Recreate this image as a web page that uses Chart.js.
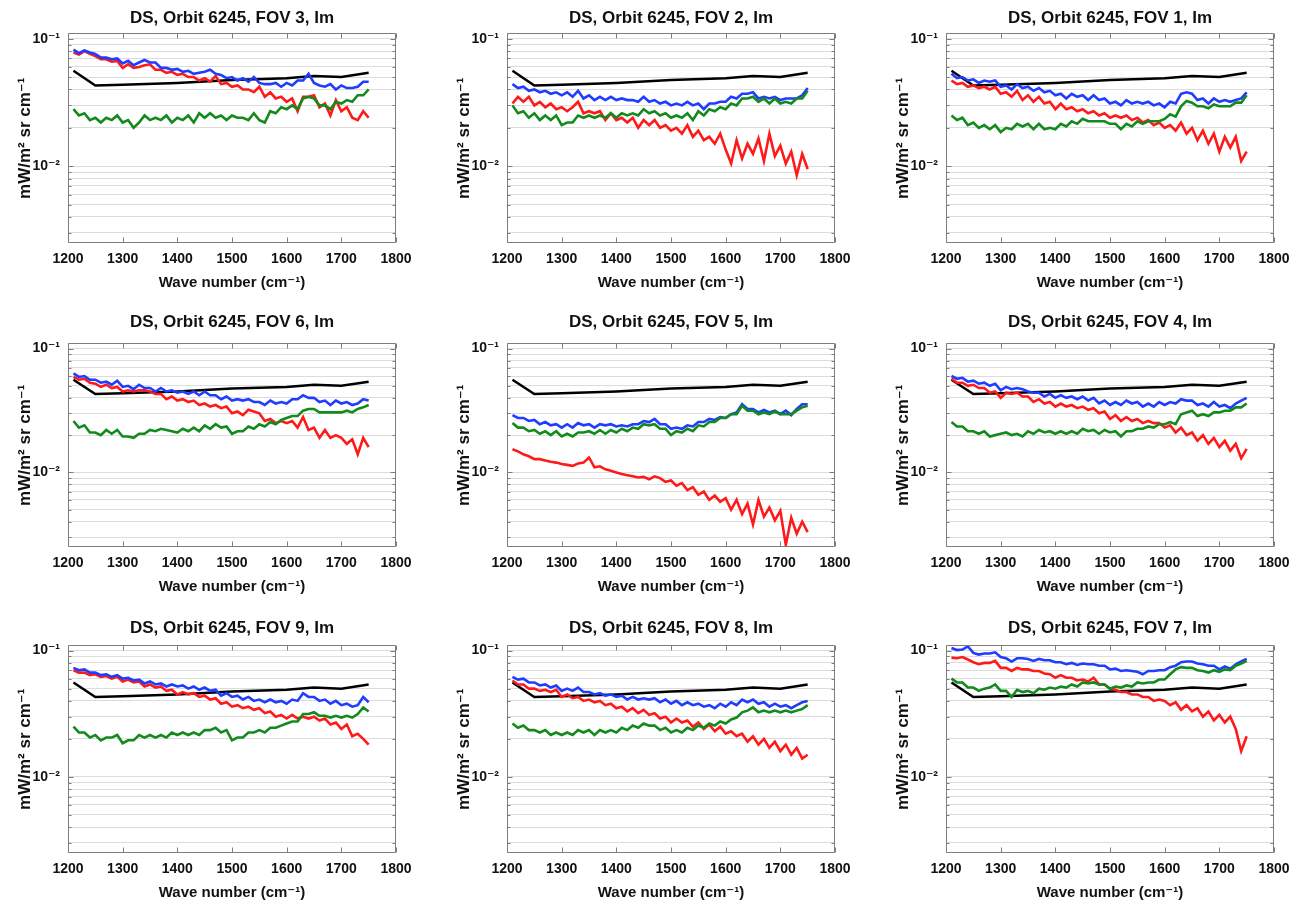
<!DOCTYPE html>
<html>
<head>
<meta charset="utf-8">
<title>DS, Orbit 6245 - FOV spectra</title>
<script src="https://cdn.jsdelivr.net/npm/chart.js@4.4.1/dist/chart.umd.min.js"></script>
<style>
  html, body { margin: 0; padding: 0; background: #fff; }
  #grid { position: relative; width: 1302px; height: 903px; overflow: hidden; }
  #grid canvas { position: absolute; }
</style>
</head>
<body>
<div id="grid"></div>
<script>
// ============================================
// DS, Orbit 6245 - 3x3 grid of FOV spectra
// log radiance vs wave number
// ============================================

// x positions of the noisy spectra (cm-1)
const WAVE = [
  1210, 1220, 1230, 1240, 1250, 1260, 1270, 1280, 1290,
  1300, 1310, 1320, 1330, 1340, 1350, 1360, 1370, 1380, 1390,
  1400, 1410, 1420, 1430, 1440, 1450, 1460, 1470, 1480, 1490,
  1500, 1510, 1520, 1530, 1540, 1550, 1560, 1570, 1580, 1590,
  1600, 1610, 1620, 1630, 1640, 1650, 1660, 1670, 1680, 1690,
  1700, 1710, 1720, 1730, 1740, 1750
];

// black reference curve (same in every panel)
const REF_WAVE  = [1210, 1250, 1300, 1400, 1500, 1600, 1650, 1700, 1750];
const REF_LEVEL = [0.056, 0.043, 0.0435, 0.045, 0.0475, 0.049, 0.051, 0.050, 0.054];

// axes
const Y_GRID = [0.003, 0.004, 0.005, 0.006, 0.007, 0.008, 0.009,
                0.01, 0.02, 0.03, 0.04, 0.05, 0.06, 0.07, 0.08, 0.09, 0.1];
const Y_MAJOR = [0.1, 0.01];
const Y_MAJOR_LABELS = ['10\u207B\u00B9', '10\u207B\u00B2'];
const X_TICKS = [1200, 1300, 1400, 1500, 1600, 1700, 1800];

// ---- FOV 3 ----
const fov3Blue = [
  .082,.077,.081,.078,.076,.071,.071,.069,.070,
  .064,.067,.062,.065,.068,.065,.065,.059,.059,.057,
  .058,.055,.056,.053,.054,.055,.057,.053,.052,.049,
  .050,.047,.049,.046,.050,.045,.044,.044,.045,.042,
  .045,.043,.047,.047,.053,.045,.043,.042,.044,.040,
  .043,.041,.041,.042,.046,.046];
const fov3Red = [
  .078,.075,.080,.076,.073,.069,.069,.066,.067,
  .059,.063,.059,.060,.062,.063,.057,.057,.054,.055,
  .052,.053,.050,.050,.047,.049,.046,.051,.044,.045,
  .042,.043,.040,.040,.038,.042,.035,.038,.034,.035,
  .032,.034,.027,.035,.035,.036,.029,.031,.025,.033,
  .027,.029,.024,.023,.027,.024];
const fov3Green = [
  .028,.025,.026,.023,.024,.022,.024,.023,.025,
  .022,.023,.020,.022,.025,.023,.024,.023,.025,.022,
  .024,.023,.025,.022,.026,.024,.026,.024,.025,.023,
  .025,.024,.024,.023,.026,.023,.022,.027,.026,.029,
  .028,.030,.028,.034,.035,.034,.030,.030,.028,.032,
  .031,.033,.032,.036,.036,.040];

// ---- FOV 2 ----
const fov2Blue = [
  .044,.041,.042,.039,.040,.038,.039,.037,.038,
  .036,.038,.035,.039,.034,.036,.033,.035,.033,.035,
  .033,.034,.033,.033,.032,.035,.032,.033,.031,.032,
  .030,.031,.030,.032,.030,.031,.028,.031,.031,.032,
  .032,.035,.034,.037,.037,.038,.034,.035,.034,.035,
  .033,.034,.034,.034,.036,.041];
const fov2Red = [
  .031,.035,.032,.035,.030,.032,.029,.031,.028,
  .029,.027,.029,.032,.026,.027,.026,.027,.023,.026,
  .023,.024,.022,.024,.020,.023,.021,.023,.020,.021,
  .019,.020,.018,.021,.017,.019,.016,.017,.015,.018,
  .0135,.0105,.016,.0115,.015,.0125,.0165,.011,.018,.012,
  .0145,.0105,.013,.0085,.0125,.0095];
const fov2Green = [
  .030,.026,.027,.024,.026,.023,.025,.023,.025,
  .021,.022,.022,.025,.024,.025,.024,.025,.024,.026,
  .024,.026,.025,.026,.025,.028,.026,.027,.025,.026,
  .024,.025,.024,.026,.023,.027,.025,.028,.027,.029,
  .028,.031,.030,.034,.034,.035,.032,.034,.031,.034,
  .031,.032,.031,.034,.034,.039];

// ---- FOV 1 ----
const fov1Blue = [
  .053,.049,.050,.047,.048,.045,.047,.046,.047,
  .042,.043,.040,.044,.041,.042,.039,.041,.038,.039,
  .036,.037,.034,.037,.035,.036,.033,.036,.033,.034,
  .031,.032,.030,.033,.031,.032,.031,.032,.030,.031,
  .029,.032,.031,.037,.038,.037,.033,.034,.031,.034,
  .032,.033,.032,.033,.034,.038];
const fov1Red = [
  .047,.044,.045,.042,.043,.041,.042,.040,.042,
  .037,.038,.035,.039,.033,.036,.032,.035,.031,.032,
  .028,.031,.028,.029,.027,.028,.026,.027,.025,.026,
  .024,.025,.024,.025,.023,.024,.022,.023,.021,.022,
  .020,.021,.019,.022,.018,.020,.016,.019,.015,.018,
  .013,.017,.014,.017,.011,.013];
const fov1Green = [
  .025,.023,.024,.021,.022,.020,.021,.0195,.021,
  .0185,.020,.0195,.0215,.0205,.0215,.0195,.0215,.0195,.020,
  .0195,.0215,.0205,.0225,.0215,.0235,.0225,.0225,.0225,.0225,
  .0215,.0215,.0195,.0215,.0205,.0225,.0215,.0225,.0225,.0225,
  .0235,.0255,.0245,.0295,.0325,.0315,.0295,.0295,.0285,.0305,
  .0295,.0295,.0295,.0315,.0315,.036];

// ---- FOV 6 ----
const fov6Blue = [
  .063,.059,.060,.056,.056,.053,.054,.051,.055,
  .049,.050,.047,.051,.048,.048,.045,.048,.045,.046,
  .044,.045,.043,.045,.042,.045,.042,.042,.039,.041,
  .038,.039,.038,.039,.037,.037,.035,.038,.036,.037,
  .036,.039,.039,.042,.040,.040,.037,.038,.035,.038,
  .036,.037,.035,.036,.039,.038];
const fov6Red = [
  .059,.056,.057,.053,.052,.049,.051,.048,.049,
  .045,.046,.045,.046,.046,.045,.043,.043,.039,.041,
  .038,.039,.037,.038,.035,.036,.034,.035,.033,.034,
  .030,.031,.029,.032,.031,.030,.026,.027,.025,.026,
  .025,.026,.023,.028,.022,.023,.019,.022,.019,.020,
  .019,.017,.0185,.014,.019,.016];
const fov6Green = [
  .026,.023,.024,.021,.021,.020,.022,.0205,.022,
  .0195,.0195,.019,.0205,.0205,.022,.0215,.0225,.022,.0215,
  .021,.0225,.0215,.023,.0215,.024,.0225,.0245,.023,.0235,
  .0205,.0215,.0215,.0235,.0225,.0245,.0235,.0255,.0245,.0265,
  .0275,.0285,.0285,.0315,.0325,.0325,.0305,.0305,.0305,.0305,
  .0305,.0315,.0305,.0325,.0335,.035];

// ---- FOV 5 ----
const fov5Blue = [
  .029,.0275,.0275,.026,.0265,.0245,.0255,.024,.0245,
  .023,.0245,.023,.025,.024,.0245,.023,.0245,.024,.0245,
  .0235,.024,.0235,.0245,.0245,.026,.0255,.027,.0245,.0245,
  .0225,.023,.0225,.024,.0235,.0255,.0255,.027,.0265,.028,
  .0275,.0295,.0305,.0355,.0325,.0325,.0305,.032,.0305,.0315,
  .0295,.0315,.029,.0325,.0355,.0355];
const fov5Red = [
  .0154,.0148,.014,.0135,.0128,.0128,.0125,.0122,.012,
  .0117,.0115,.0113,.0118,.0120,.0132,.0110,.0112,.0106,.0103,
  .0100,.0097,.0095,.0093,.0091,.0092,.0088,.0093,.0090,.0084,
  .0086,.0078,.0082,.0072,.0076,.0066,.0070,.0060,.0065,.0058,
  .0062,.0050,.0060,.0046,.0056,.0038,.0060,.0044,.0052,.0041,
  .0049,.0026,.0043,.0032,.0040,.0033];
const fov5Green = [
  .025,.023,.023,.0215,.022,.0205,.0215,.020,.0215,
  .0195,.0205,.0195,.021,.021,.0215,.0205,.022,.0205,.022,
  .021,.0225,.0215,.023,.0225,.0245,.024,.0245,.0225,.0225,
  .020,.0215,.021,.0225,.0215,.024,.0235,.0255,.0255,.0275,
  .0275,.0295,.0295,.0345,.0315,.0315,.0295,.0305,.0295,.031,
  .0295,.0295,.0295,.0315,.0335,.0345];

// ---- FOV 4 ----
const fov4Blue = [
  .060,.057,.058,.054,.055,.052,.053,.050,.052,
  .046,.049,.047,.048,.047,.045,.044,.044,.041,.043,
  .040,.042,.040,.041,.039,.041,.038,.040,.036,.038,
  .035,.037,.035,.038,.036,.037,.034,.036,.034,.037,
  .035,.037,.036,.039,.038,.038,.035,.036,.034,.037,
  .034,.035,.033,.036,.038,.040];
const fov4Red = [
  .057,.053,.053,.050,.051,.048,.048,.044,.045,
  .040,.044,.043,.044,.041,.041,.037,.039,.036,.037,
  .034,.036,.034,.035,.033,.034,.032,.033,.030,.031,
  .027,.029,.026,.028,.026,.027,.025,.026,.025,.025,
  .023,.024,.021,.023,.020,.021,.018,.020,.017,.019,
  .016,.018,.015,.017,.013,.0155];
const fov4Green = [
  .0255,.0235,.0235,.0215,.0215,.0205,.0215,.0195,.020,
  .0205,.021,.020,.0205,.0195,.0215,.0205,.022,.021,.0215,
  .0205,.0215,.0205,.0215,.0205,.0225,.0215,.022,.0205,.022,
  .021,.0215,.0195,.0215,.0215,.0225,.0225,.0235,.023,.0245,
  .0245,.0255,.0245,.0295,.0305,.0315,.0285,.0295,.0285,.0305,
  .0305,.0315,.0315,.0335,.0335,.036];

// ---- FOV 9 ----
const fov9Blue = [
  .073,.070,.071,.067,.067,.064,.065,.062,.064,
  .060,.061,.058,.059,.055,.057,.054,.055,.052,.054,
  .052,.053,.050,.052,.049,.051,.048,.049,.044,.046,
  .043,.044,.041,.043,.040,.041,.039,.041,.039,.040,
  .038,.041,.040,.046,.043,.043,.040,.041,.038,.040,
  .037,.038,.036,.037,.043,.039];
const fov9Red = [
  .070,.067,.067,.064,.065,.062,.063,.060,.062,
  .057,.059,.056,.057,.052,.054,.051,.052,.048,.049,
  .045,.047,.045,.046,.043,.044,.041,.042,.038,.039,
  .036,.037,.035,.036,.034,.035,.032,.033,.030,.031,
  .029,.031,.029,.030,.029,.030,.028,.029,.026,.027,
  .024,.026,.021,.022,.020,.018];
const fov9Green = [
  .025,.0225,.0225,.0205,.0215,.0195,.0205,.0205,.0215,
  .0185,.0195,.0195,.0215,.0205,.0215,.0205,.0215,.0205,.0225,
  .0215,.0225,.0215,.0225,.0215,.0235,.0235,.0245,.0225,.0235,
  .0195,.0205,.0205,.0225,.0225,.0235,.0225,.0245,.0245,.0255,
  .0265,.0275,.0275,.0315,.0315,.0325,.0305,.0305,.0295,.0305,
  .0295,.0305,.0295,.0315,.0355,.033];

// ---- FOV 8 ----
const fov8Blue = [
  .062,.059,.060,.056,.056,.053,.054,.051,.053,
  .048,.050,.048,.051,.047,.047,.045,.046,.044,.045,
  .043,.044,.041,.043,.041,.042,.041,.042,.039,.041,
  .038,.040,.037,.039,.037,.038,.036,.037,.035,.038,
  .036,.039,.037,.041,.039,.041,.038,.039,.036,.038,
  .036,.037,.035,.037,.039,.040];
const fov8Red = [
  .058,.054,.054,.050,.050,.048,.049,.047,.049,
  .043,.045,.042,.043,.040,.041,.039,.040,.037,.038,
  .035,.036,.033,.035,.032,.034,.031,.032,.029,.030,
  .027,.029,.027,.028,.025,.027,.024,.026,.023,.025,
  .022,.023,.021,.022,.019,.021,.018,.020,.017,.019,
  .016,.018,.015,.017,.014,.015];
const fov8Green = [
  .0265,.0245,.0255,.0235,.0235,.0225,.0235,.0215,.0225,
  .0215,.0225,.0215,.0235,.0225,.0235,.0215,.0235,.0225,.0235,
  .0225,.0245,.0235,.0255,.0245,.0265,.0255,.0255,.0235,.0245,
  .0225,.0235,.0225,.0245,.0235,.0255,.0245,.0265,.0255,.0275,
  .0265,.0285,.0295,.0325,.0335,.0355,.0325,.0335,.0325,.0335,
  .0325,.0335,.0325,.0335,.0345,.037];

// ---- FOV 7 ----
const fov7Blue = [
  .105,.101,.102,.108,.096,.093,.095,.095,.097,
  .089,.087,.082,.087,.087,.086,.083,.086,.084,.084,
  .081,.081,.078,.080,.077,.079,.078,.078,.076,.076,
  .071,.072,.069,.070,.069,.068,.065,.069,.069,.070,
  .070,.074,.076,.081,.082,.082,.079,.078,.076,.076,
  .071,.075,.072,.078,.082,.086];
const fov7Red = [
  .088,.087,.089,.085,.081,.078,.080,.080,.083,
  .073,.073,.069,.073,.071,.071,.069,.069,.066,.065,
  .061,.064,.061,.061,.058,.059,.057,.061,.054,.054,
  .050,.049,.047,.047,.045,.045,.043,.043,.040,.041,
  .040,.037,.039,.034,.037,.033,.035,.030,.033,.028,
  .031,.027,.030,.024,.016,.021];
const fov7Green = [
  .060,.056,.056,.051,.051,.048,.050,.051,.054,
  .048,.048,.043,.049,.047,.048,.046,.050,.049,.051,
  .050,.052,.051,.054,.052,.056,.055,.056,.054,.054,
  .050,.052,.051,.053,.052,.056,.055,.056,.056,.059,
  .059,.065,.071,.074,.073,.073,.070,.069,.067,.070,
  .068,.071,.070,.076,.079,.083];

// panel order: row by row, left to right
const PANELS = [
  { title: 'DS, Orbit 6245, FOV 3, Im', blue: fov3Blue, red: fov3Red, green: fov3Green },
  { title: 'DS, Orbit 6245, FOV 2, Im', blue: fov2Blue, red: fov2Red, green: fov2Green },
  { title: 'DS, Orbit 6245, FOV 1, Im', blue: fov1Blue, red: fov1Red, green: fov1Green },
  { title: 'DS, Orbit 6245, FOV 6, Im', blue: fov6Blue, red: fov6Red, green: fov6Green },
  { title: 'DS, Orbit 6245, FOV 5, Im', blue: fov5Blue, red: fov5Red, green: fov5Green },
  { title: 'DS, Orbit 6245, FOV 4, Im', blue: fov4Blue, red: fov4Red, green: fov4Green },
  { title: 'DS, Orbit 6245, FOV 9, Im', blue: fov9Blue, red: fov9Red, green: fov9Green },
  { title: 'DS, Orbit 6245, FOV 8, Im', blue: fov8Blue, red: fov8Red, green: fov8Green },
  { title: 'DS, Orbit 6245, FOV 7, Im', blue: fov7Blue, red: fov7Red, green: fov7Green }
];

// layout (pixels)
const CELL_W = 434;
const COL_LEFT = [0, 439, 878];
const ROW_PLOT_TOP = [33, 343, 645];
const ROW_PLOT_H = [210, 204, 208];
const ROW_TITLE_GAP = [5, 11, 7];
const TITLE_SIZE = 17, TITLE_PAD_TOP = 2;
const AXIS_W = 68, XAXIS_H = 58, RIGHT_PAD = 38;

const FONT = "'Liberation Sans', Arial, 'DejaVu Sans', sans-serif";
const TEXT = '#111';
const COLORS = { blue: '#1f3cff', red: '#ff1a1a', green: '#138a1c', black: '#000' };

function isMajor(v) {
  return Y_MAJOR.some(m => Math.abs(v - m) < 1e-9);
}

// box + inward ticks, matlab style
const framePlugin = {
  id: 'frame',
  afterDatasetsDraw(chart) {
    const { ctx, chartArea: a, scales } = chart;
    const l = Math.round(a.left) + 0.5, r = Math.round(a.right) - 0.5;
    const t = Math.round(a.top) + 0.5, b = Math.round(a.bottom) - 0.5;
    ctx.save();
    ctx.strokeStyle = '#7d7d7d';
    ctx.lineWidth = 1;
    ctx.beginPath();
    scales.x.ticks.forEach(tk => {
      const px = Math.round(scales.x.getPixelForValue(tk.value)) + 0.5;
      ctx.moveTo(px, b); ctx.lineTo(px, b - 5);
      ctx.moveTo(px, t); ctx.lineTo(px, t + 5);
    });
    scales.y.ticks.forEach(tk => {
      const py = Math.round(scales.y.getPixelForValue(tk.value)) + 0.5;
      const len = isMajor(tk.value) ? 5 : 3;
      ctx.moveTo(l, py); ctx.lineTo(l + len, py);
      ctx.moveTo(r, py); ctx.lineTo(r - len, py);
    });
    ctx.rect(l, t, r - l, b - t);
    ctx.stroke();
    ctx.restore();
  }
};

function line(values, color) {
  return {
    data: WAVE.map((x, i) => ({ x, y: values[i] })),
    borderColor: color,
    borderWidth: 2.6,
    pointRadius: 0,
    tension: 0
  };
}

function makeChart(panel, idx) {
  const row = Math.floor(idx / 3), col = idx % 3;
  const titleH = TITLE_PAD_TOP + TITLE_SIZE * 1.2 + ROW_TITLE_GAP[row];
  const top = Math.round(ROW_PLOT_TOP[row] - titleH);
  const h = Math.round(titleH + ROW_PLOT_H[row] + XAXIS_H);
  const canvas = document.createElement('canvas');
  canvas.width = CELL_W;
  canvas.height = h;
  canvas.style.left = COL_LEFT[col] + 'px';
  canvas.style.top = top + 'px';
  canvas.style.width = CELL_W + 'px';
  canvas.style.height = h + 'px';
  document.getElementById('grid').appendChild(canvas);

  return new Chart(canvas, {
    type: 'line',
    data: {
      datasets: [
        line(panel.green, COLORS.green),
        line(panel.blue, COLORS.blue),
        line(panel.red, COLORS.red),
        {
          data: REF_WAVE.map((x, i) => ({ x, y: REF_LEVEL[i] })),
          borderColor: COLORS.black,
          borderWidth: 2.5,
          pointRadius: 0,
          tension: 0
        }
      ]
    },
    options: {
      responsive: false,
      animation: false,
      devicePixelRatio: 1,
      layout: { padding: { left: 0, right: RIGHT_PAD, top: 0, bottom: 0 } },
      plugins: {
        legend: { display: false },
        tooltip: { enabled: false },
        title: {
          display: true,
          fullSize: false,   // centre the title over the plot box
          text: panel.title,
          color: TEXT,
          font: { family: FONT, size: TITLE_SIZE, weight: 'bold', lineHeight: 1.2 },
          padding: { top: TITLE_PAD_TOP, bottom: ROW_TITLE_GAP[row] }
        }
      },
      scales: {
        x: {
          type: 'linear',
          min: 1200,
          max: 1800,
          afterBuildTicks: s => { s.ticks = X_TICKS.map(v => ({ value: v })); },
          afterFit: s => { s.height = XAXIS_H; },
          grid: { display: false, drawTicks: false },
          border: { display: false },
          ticks: {
            padding: 8,
            maxRotation: 0,
            autoSkip: false,
            color: TEXT,
            font: { family: FONT, size: 14, weight: 'bold' },
            callback: v => String(v)
          },
          title: {
            display: true,
            text: 'Wave number (cm\u207B\u00B9)',
            color: TEXT,
            font: { family: FONT, size: 15, weight: 'bold' },
            padding: { top: 0, bottom: 9 }
          }
        },
        y: {
          type: 'logarithmic',
          min: 0.0025,
          max: 0.11,
          afterBuildTicks: s => { s.ticks = Y_GRID.map(v => ({ value: v })); },
          afterFit: s => { s.width = AXIS_W; },
          grid: { color: '#dcdcdc', lineWidth: 1, drawTicks: false },
          border: { display: false },
          ticks: {
            autoSkip: false,
            padding: 8,
            color: TEXT,
            font: { family: FONT, size: 14, weight: 'bold' },
            callback: v => {
              const k = Y_MAJOR.findIndex(m => Math.abs(v - m) < 1e-9);
              return k >= 0 ? Y_MAJOR_LABELS[k] : '';
            }
          },
          title: {
            display: true,
            text: 'mW/m\u00B2 sr cm\u207B\u00B9',
            color: TEXT,
            font: { family: FONT, size: 17, weight: 'bold' },
            padding: { top: 15, bottom: 0 }
          }
        }
      }
    },
    plugins: [framePlugin]
  });
}

PANELS.forEach(makeChart);
</script>
</body>
</html>
